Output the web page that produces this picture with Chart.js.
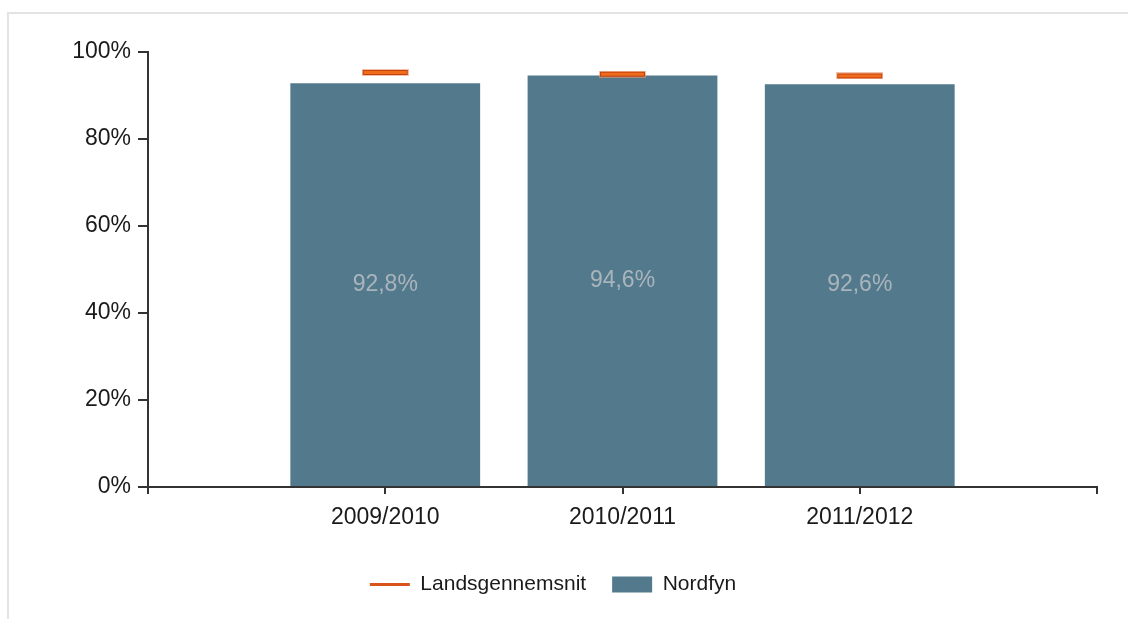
<!DOCTYPE html>
<html>
<head>
<meta charset="utf-8">
<script src="https://cdn.jsdelivr.net/npm/chart.js@4"></script>
<style>
  html, body { margin: 0; padding: 0; background: #fff; }
  #wrap {
    position: absolute; left: 7px; top: 12px; width: 1121px; height: 607px;
    border-top: 2px solid #e3e3e3; border-left: 2px solid #e3e3e3; box-sizing: border-box;
  }
</style>
</head>
<body>
<div id="wrap"><canvas id="myChart" width="1119" height="605"></canvas></div>
<script>
const categories = ["", "2009/2010", "2010/2011", "2011/2012", ""];
const nordfyn = [null, 92.8, 94.6, 92.6, null];
const landsgennemsnit = [null, 95.3, 94.9, 94.5, null];
const yTicks = [0, 20, 40, 60, 80, 100];

const barColor = "#537a8c";
const fontFamily = "Arial, 'Liberation Sans', sans-serif";

// small orange bar used as the marker for the national average
const marker = document.createElement("canvas");
marker.width = 47;
marker.height = 7;
const mctx = marker.getContext("2d");
mctx.fillStyle = "rgba(240,150,110,0.6)";
mctx.fillRect(0, 0, 47, 7);
mctx.fillStyle = "#c0430f";
mctx.fillRect(1, 1, 45, 5);
mctx.fillStyle = "#f06b1c";
mctx.fillRect(2, 2, 43, 3);

const barLabels = {
  id: "barLabels",
  afterDatasetsDraw(chart) {
    const ctx = chart.ctx;
    const meta = chart.getDatasetMeta(1);
    ctx.save();
    ctx.font = "23px " + fontFamily;
    ctx.fillStyle = "#aab4bc";
    ctx.textAlign = "center";
    ctx.textBaseline = "middle";
    meta.data.forEach((bar, i) => {
      const v = nordfyn[i];
      if (v == null) return;
      ctx.fillText(v.toFixed(1).replace(".", ",") + "%", bar.x, (bar.y + bar.base) / 2);
    });
    ctx.restore();
  },
};

Chart.defaults.font.family = fontFamily;
Chart.defaults.color = "#1a1a1a";

const ctx = document.getElementById("myChart");
const myChart = new Chart(ctx, {
  data: {
    labels: categories,
    datasets: [
      {
        type: "line",
        label: "Landsgennemsnit",
        data: landsgennemsnit,
        showLine: false,
        pointStyle: marker,
        pointRadius: 10,
        pointHoverRadius: 10,
        borderColor: "#d9531b",
        backgroundColor: "#d9531b",
      },
      {
        type: "bar",
        label: "Nordfyn",
        data: nordfyn,
        backgroundColor: barColor,
        borderWidth: 0,
        barPercentage: 1,
        categoryPercentage: 0.8,
      },
    ],
  },
  options: {
    responsive: false,
    animation: false,
    layout: { padding: { top: 38, right: 31, bottom: 14, left: 0 } },
    plugins: {
      tooltip: { enabled: false },
      legend: {
        position: "bottom",
        labels: {
          usePointStyle: true,
          pointStyleWidth: 40,
          boxHeight: 16,
          padding: 26,
          font: { size: 21 },
          color: "#1a1a1a",
          generateLabels(chart) {
            const items = Chart.defaults.plugins.legend.labels.generateLabels(chart);
            items[0].pointStyle = "line";
            items[0].strokeStyle = "#d9531b";
            items[0].lineWidth = 3;
            items[1].pointStyle = "rect";
            items[1].fillStyle = barColor;
            items[1].strokeStyle = barColor;
            items[1].lineWidth = 0;
            return items;
          },
        },
      },
    },
    scales: {
      x: {
        offset: false,
        grid: { offset: false, drawOnChartArea: false, tickLength: 7, color: "#333", lineWidth: 2 },
        border: { color: "#333", width: 2 },
        ticks: { font: { size: 23 }, color: "#1a1a1a", maxRotation: 0, autoSkip: false, padding: 10 },
        afterFit(scale) { scale.height = 61; },
      },
      y: {
        min: 0,
        max: 100,
        afterBuildTicks(scale) { scale.ticks = yTicks.map(v => ({ value: v })); },
        grid: { drawOnChartArea: false, tickLength: 10, color: "#333", lineWidth: 2 },
        border: { color: "#333", width: 2 },
        ticks: { font: { size: 23 }, color: "#1a1a1a", padding: 7, callback: v => v + "%" },
        afterFit(scale) { scale.width = 139; },
      },
    },
  },
  plugins: [barLabels],
});
</script>
</body>
</html>
